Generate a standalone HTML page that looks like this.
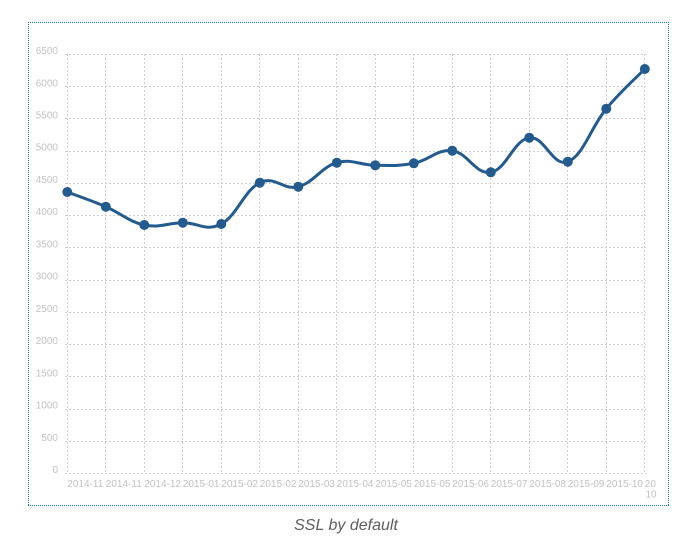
<!DOCTYPE html>
<html>
<head>
<meta charset="utf-8">
<style>
  html, body { margin: 0; padding: 0; background: #ffffff; }
  body { width: 691px; height: 540px; overflow: hidden; }
  svg { display: block; }
  .yl { font-family: "Liberation Sans", sans-serif; font-size: 10px; fill: #c2c2c2; text-anchor: end; }
  .xl { font-family: "Liberation Sans", sans-serif; font-size: 10px; fill: #c2c2c2; }
  .cap { font-family: "Liberation Sans", sans-serif; font-size: 16px; font-style: italic; fill: #5e5e5e; text-anchor: middle; }
</style>
</head>
<body>
<svg width="691" height="540" viewBox="0 0 691 540" xmlns="http://www.w3.org/2000/svg" shape-rendering="auto">
  <!-- outer dotted border -->
  <g stroke="#1e7cc2" stroke-width="1" stroke-dasharray="1,1" fill="none" shape-rendering="crispEdges">
    <line x1="28" y1="22.5" x2="669" y2="22.5"/>
    <line x1="28" y1="505.5" x2="669" y2="505.5"/>
    <line x1="28.5" y1="22" x2="28.5" y2="506"/>
    <line x1="668.5" y1="22" x2="668.5" y2="506"/>
  </g>

  <!-- horizontal grid -->
  <g stroke="#d0d0d0" stroke-width="1" stroke-dasharray="2,2" fill="none" shape-rendering="crispEdges">
    <line x1="65" y1="473.5" x2="646" y2="473.5"/>
    <line x1="65" y1="441.5" x2="646" y2="441.5"/>
    <line x1="65" y1="409.5" x2="646" y2="409.5"/>
    <line x1="65" y1="376.5" x2="646" y2="376.5"/>
    <line x1="65" y1="344.5" x2="646" y2="344.5"/>
    <line x1="65" y1="312.5" x2="646" y2="312.5"/>
    <line x1="65" y1="280.5" x2="646" y2="280.5"/>
    <line x1="65" y1="247.5" x2="646" y2="247.5"/>
    <line x1="65" y1="215.5" x2="646" y2="215.5"/>
    <line x1="65" y1="183.5" x2="646" y2="183.5"/>
    <line x1="65" y1="151.5" x2="646" y2="151.5"/>
    <line x1="65" y1="118.5" x2="646" y2="118.5"/>
    <line x1="65" y1="86.5" x2="646" y2="86.5"/>
    <line x1="65" y1="54.5" x2="646" y2="54.5"/>
  </g>
  <!-- vertical grid -->
  <g stroke="#d0d0d0" stroke-width="1" stroke-dasharray="2,2" fill="none" shape-rendering="crispEdges">
    <line x1="67.5" y1="54" x2="67.5" y2="474"/>
    <line x1="105.5" y1="54" x2="105.5" y2="474"/>
    <line x1="144.5" y1="54" x2="144.5" y2="474"/>
    <line x1="182.5" y1="54" x2="182.5" y2="474"/>
    <line x1="221.5" y1="54" x2="221.5" y2="474"/>
    <line x1="259.5" y1="54" x2="259.5" y2="474"/>
    <line x1="298.5" y1="54" x2="298.5" y2="474"/>
    <line x1="336.5" y1="54" x2="336.5" y2="474"/>
    <line x1="375.5" y1="54" x2="375.5" y2="474"/>
    <line x1="413.5" y1="54" x2="413.5" y2="474"/>
    <line x1="452.5" y1="54" x2="452.5" y2="474"/>
    <line x1="490.5" y1="54" x2="490.5" y2="474"/>
    <line x1="529.5" y1="54" x2="529.5" y2="474"/>
    <line x1="567.5" y1="54" x2="567.5" y2="474"/>
    <line x1="606.5" y1="54" x2="606.5" y2="474"/>
    <line x1="644.5" y1="54" x2="644.5" y2="474"/>
  </g>

  <!-- y labels -->
  <g class="yl">
    <text x="58" y="473">0</text>
    <text x="58" y="440.8">500</text>
    <text x="58" y="408.5">1000</text>
    <text x="58" y="376.3">1500</text>
    <text x="58" y="344.1">2000</text>
    <text x="58" y="311.9">2500</text>
    <text x="58" y="279.6">3000</text>
    <text x="58" y="247.4">3500</text>
    <text x="58" y="215.2">4000</text>
    <text x="58" y="182.9">4500</text>
    <text x="58" y="150.7">5000</text>
    <text x="58" y="118.5">5500</text>
    <text x="58" y="86.3">6000</text>
    <text x="58" y="54">6500</text>
  </g>

  <!-- x labels -->
  <g class="xl">
    <text x="67.3" y="487">2014-11</text>
    <text x="105.8" y="487">2014-11</text>
    <text x="144.3" y="487">2014-12</text>
    <text x="182.8" y="487">2015-01</text>
    <text x="221.3" y="487">2015-02</text>
    <text x="259.8" y="487">2015-02</text>
    <text x="298.3" y="487">2015-03</text>
    <text x="336.8" y="487">2015-04</text>
    <text x="375.3" y="487">2015-05</text>
    <text x="413.8" y="487">2015-05</text>
    <text x="452.3" y="487">2015-06</text>
    <text x="490.8" y="487">2015-07</text>
    <text x="529.3" y="487">2015-08</text>
    <text x="567.8" y="487">2015-09</text>
    <text x="606.3" y="487">2015-10</text>
    <text x="644.8" y="487">20</text>
    <text x="645.5" y="497.5">10</text>
  </g>

  <!-- series line -->
  <path fill="none" stroke="#245b8f" stroke-width="3" stroke-linejoin="round" stroke-linecap="round"
    d="M67.3,192 C75,194.94 90.4,200.1 105.8,206.7
       C121.2,213.3 128.9,221.8 144.3,225
       C159.7,228.2 167.4,222.9 182.8,222.7
       C198.2,222.5 205.9,232 221.3,224
       C236.7,216 244.4,190.16 259.8,182.7
       C275.2,175.24 282.9,190.7 298.3,186.7
       C313.7,182.7 321.4,166.98 336.8,162.7
       C352.2,158.42 359.9,165.18 375.3,165.3
       C390.7,165.42 398.4,166.22 413.8,163.3
       C429.2,160.38 436.9,148.9 452.3,150.7
       C467.7,152.5 475.4,174.9 490.8,172.3
       C506.2,169.7 513.9,139.82 529.3,137.7
       C544.7,135.58 552.4,167.5 567.8,161.7
       C583.2,155.9 590.9,127.24 606.3,108.7
       C621.7,90.16 637.1,76.94 644.8,69"/>

  <!-- points -->
  <g fill="#245b8f">
    <circle cx="67.3" cy="192" r="5"/>
    <circle cx="105.8" cy="206.7" r="5"/>
    <circle cx="144.3" cy="225" r="5"/>
    <circle cx="182.8" cy="222.7" r="5"/>
    <circle cx="221.3" cy="224" r="5"/>
    <circle cx="259.8" cy="182.7" r="5"/>
    <circle cx="298.3" cy="186.7" r="5"/>
    <circle cx="336.8" cy="162.7" r="5"/>
    <circle cx="375.3" cy="165.3" r="5"/>
    <circle cx="413.8" cy="163.3" r="5"/>
    <circle cx="452.3" cy="150.7" r="5"/>
    <circle cx="490.8" cy="172.3" r="5"/>
    <circle cx="529.3" cy="137.7" r="5"/>
    <circle cx="567.8" cy="161.7" r="5"/>
    <circle cx="606.3" cy="108.7" r="5"/>
    <circle cx="644.8" cy="69" r="5"/>
  </g>

  <!-- caption -->
  <text class="cap" x="346" y="530">SSL by default</text>
</svg>
</body>
</html>
